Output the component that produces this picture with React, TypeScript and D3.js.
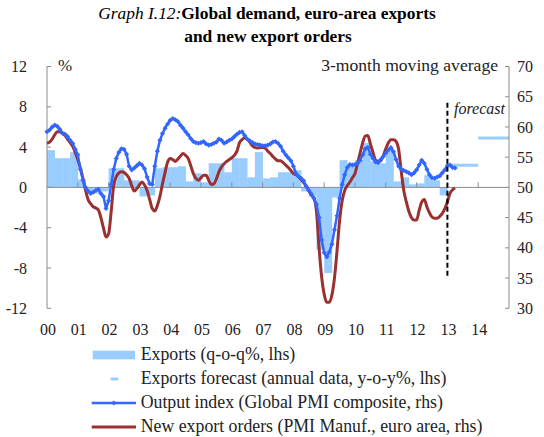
import React from "react";
import * as d3 from "d3";

// Exports, q-o-q %, quarterly from 2000Q1 (lhs)
const exportsQoq = [
  3.7, 2.9, 2.9, 3.5,
  0.8, -0.5, -0.6, -0.4,
  1.9, 1.9, 0.7, 0.7,
  -0.9, -0.8, 1.9, 2.0,
  2.0, 2.1, 0.6, 1.4,
  0.5, 2.4, 2.4, 1.5,
  2.9, 2.9, 1.0, 3.5,
  0.9, 1.0, 1.5, 1.5,
  1.7, -0.4, -0.9, -6.2,
  -8.5, -1.0, 2.7, 2.3,
  2.7, 4.4, 2.6, 2.4,
  3.8, 0.6, 1.0, 0.3,
  0.4, 1.2, 0.7, -0.8,
];

// Exports forecast, annual y-o-y % (lhs)
const forecastYears = [2013, 2014];
const forecastValues = [2.2, 4.9];

// Global PMI composite output index, monthly from Jan 2000 (rhs)
const pmiOutput = [
  59.2, 59.5, 60.0, 60.3, 60.1, 59.6, 59.0, 58.8, 58.4, 57.8, 57.3, 56.3,
  55.4, 53.0, 51.2, 50.0, 49.4, 49.0, 49.2, 49.5, 49.7, 49.0, 48.5, 46.5,
  47.8, 50.5, 53.0, 54.8, 55.8, 56.4, 56.3, 55.5, 53.5, 52.9, 53.2, 53.6,
  54.0, 53.7, 53.1, 51.7, 50.6, 50.5, 53.5, 56.0, 57.8, 58.9, 59.8, 60.5,
  61.1, 61.4, 61.2, 60.9, 60.3, 59.8, 59.2, 58.7, 58.1, 57.6, 57.4, 57.3,
  57.4, 57.6, 57.2, 57.0, 57.1, 57.3, 57.5, 58.0, 57.8, 57.3, 57.5, 57.8,
  58.0, 58.4, 58.8, 59.1, 59.2, 58.6, 58.0, 57.7, 57.4, 57.2, 57.1, 57.0,
  56.9, 56.9, 57.0, 57.2, 57.5, 57.6, 57.3, 56.8, 56.0, 55.4, 54.9, 54.4,
  53.5, 52.3, 51.8, 51.5, 51.1, 50.2, 49.5, 48.9, 48.2, 47.2, 45.0, 41.3,
  39.2, 38.5, 39.3, 40.6, 43.0, 45.3, 48.2, 50.5, 52.1, 53.3, 53.8, 53.7,
  53.8, 54.0, 54.5, 55.4, 56.4, 56.6, 55.5, 54.8, 54.2, 54.1, 54.6, 55.1,
  55.7, 56.2, 56.6, 55.9, 54.6, 53.5, 53.0, 52.8, 52.6, 52.4, 52.1, 52.4,
  52.9, 53.7, 54.5, 54.0, 53.0, 52.1, 51.6, 51.5, 51.7, 51.9, 52.4, 52.9,
  53.6, 53.7, 53.3, 53.2,
];

// New export orders, PMI manufacturing euro area, monthly from Jan 2000 (rhs)
const newExportOrders = [
  57.3, 57.5, 58.0, 58.7, 59.2, 59.2, 58.9, 58.6, 58.0, 57.4, 56.8, 55.8,
  54.6, 53.2, 51.5, 49.6, 48.0, 47.3, 46.8, 46.6, 46.3, 45.0, 43.3, 41.8,
  42.3, 46.0, 50.4, 51.8, 52.4, 52.6, 52.5, 52.1, 51.5, 50.3, 49.4, 49.8,
  50.4, 50.9, 50.4, 49.5, 48.0, 46.5, 46.1, 47.0, 48.5, 50.6, 52.5, 54.2,
  54.8, 54.6, 54.3, 54.7, 55.2, 55.6, 55.3, 54.8, 53.6, 52.3, 51.5, 51.2,
  51.6, 52.0, 52.0, 51.2, 50.5, 50.6, 51.4, 52.6, 53.4, 53.9, 54.3, 54.6,
  54.9, 55.3, 56.0, 57.4, 57.9, 58.2, 58.0, 57.5, 56.9, 56.6, 56.5, 56.6,
  56.6, 56.5, 56.0, 55.6, 55.1, 54.7, 54.4, 54.4, 54.1, 53.7, 53.3, 52.8,
  52.3, 52.1, 51.8, 51.3, 50.8, 50.2, 49.5, 48.7, 48.2, 46.0, 40.0, 35.2,
  32.3, 31.0, 31.0, 32.2, 35.0, 39.5, 44.5, 47.8, 49.5, 50.3, 50.9, 51.6,
  52.3, 54.0, 55.7, 57.4, 58.5, 58.6, 57.2, 55.8, 54.5, 54.3, 54.4, 55.2,
  56.4, 57.4, 57.9, 57.9, 57.6, 56.3, 52.7, 49.5, 47.6, 46.0, 45.0, 44.6,
  44.6, 46.2, 47.6, 48.0, 46.8, 45.8, 45.1, 44.9, 44.9, 45.2, 45.7, 46.5,
  47.6, 49.0, 49.6, 49.9,
];

const yearLabels = ["00", "01", "02", "03", "04", "05", "06", "07", "08", "09", "10", "11", "12", "13", "14"];
const leftTicks = [-12, -8, -4, 0, 4, 8, 12];
const rightTicks = [30, 35, 40, 45, 50, 55, 60, 65, 70];
const forecastMarker = { year: 2013, top: 64, bottom: 35 };

const legendItems = [
  "Exports (q-o-q%, lhs)",
  "Exports forecast (annual data, y-o-y%, lhs)",
  "Output index (Global PMI composite, rhs)",
  "New export orders (PMI Manuf., euro area, rhs)",
];

const W = 544;
const H = 437;
const serif = "'Liberation Serif', 'Times New Roman', serif";
const axisColor = "#8c8c8c";
const barColor = "#99ccff";
const blue = "#3366ff";
const red = "#9b3030";

export default function App() {
  const x = d3.scaleLinear().domain([2000, 2015]).range([47, 509]);
  const yL = d3.scaleLinear().domain([-12, 12]).range([308.3, 66.5]);
  const yR = d3.scaleLinear().domain([30, 70]).range([308.3, 66.5]);

  const bars = exportsQoq.map((v, i) => ({ t: 2000 + i / 4, v }));
  const bluePts = pmiOutput.map((v, i) => [2000 + i / 12, v] as [number, number]);
  const redPts = newExportOrders.map((v, i) => [2000 + i / 12, v] as [number, number]);

  const blueLine = d3.line<[number, number]>().x((d) => x(d[0])).y((d) => yR(d[1]));
  const redLine = d3
    .line<[number, number]>()
    .x((d) => x(d[0]))
    .y((d) => yR(d[1]))
    .curve(d3.curveMonotoneX);

  const years = d3.range(2000, 2015);
  const legendY = [355, 379, 403, 427];

  return (
    <svg width={W} height={H} style={{ position: "absolute", left: 0, top: 0, background: "#fff" }} fontFamily={serif}>
      {/* title */}
      <text x={267} y={19} textAnchor="middle" fontSize={17.4} fill="#000">
        <tspan fontStyle="italic">Graph I.12:</tspan>
        <tspan fontWeight="bold">Global demand, euro-area exports</tspan>
      </text>
      <text x={268} y={42} textAnchor="middle" fontSize={17.4} fontWeight="bold" fill="#000">
        and new export orders
      </text>

      {/* bars */}
      {bars.map((b, i) => (
        <rect
          key={i}
          x={x(b.t)}
          width={x(b.t + 0.25) - x(b.t) + 0.3}
          y={yL(Math.max(0, b.v))}
          height={Math.abs(yL(b.v) - yL(0))}
          fill={barColor}
        />
      ))}

      {/* forecast bars */}
      {forecastYears.map((yr, i) => (
        <line
          key={yr}
          x1={x(yr)}
          x2={x(yr + 1)}
          y1={yL(forecastValues[i])}
          y2={yL(forecastValues[i])}
          stroke={barColor}
          strokeWidth={3}
        />
      ))}

      {/* axes */}
      <line x1={x(2000)} x2={x(2000)} y1={yL(12)} y2={yL(-12)} stroke={axisColor} />
      <line x1={x(2015)} x2={x(2015)} y1={yR(70)} y2={yR(30)} stroke={axisColor} />
      <line x1={x(2000)} x2={x(2015)} y1={yL(0)} y2={yL(0)} stroke={axisColor} />
      {leftTicks.map((t) => (
        <g key={t}>
          <line x1={x(2000)} x2={x(2000) + 4} y1={yL(t)} y2={yL(t)} stroke={axisColor} />
          <text x={27} y={yL(t)} dy="0.35em" textAnchor="end" fontSize={16} fill="#222">
            {t}
          </text>
        </g>
      ))}
      {rightTicks.map((t) => (
        <g key={t}>
          <line x1={x(2015) - 4} x2={x(2015)} y1={yR(t)} y2={yR(t)} stroke={axisColor} />
          <text x={517} y={yR(t)} dy="0.35em" textAnchor="start" fontSize={16} fill="#222">
            {t}
          </text>
        </g>
      ))}
      {years.map((yr, i) => (
        <g key={yr}>
          {i > 0 && <line x1={x(yr)} x2={x(yr)} y1={yL(0)} y2={yL(0) - 5} stroke={axisColor} />}
          <text x={x(yr) + 1} y={335} textAnchor="middle" fontSize={16} fill="#222">
            {yearLabels[i]}
          </text>
        </g>
      ))}

      <text x={58} y={71} fontSize={17} fill="#222">%</text>
      <text x={498} y={71} textAnchor="end" fontSize={17.6} fill="#222">3-month moving average</text>

      {/* lines */}
      <path d={redLine(redPts) || ""} fill="none" stroke={red} strokeWidth={3} strokeLinejoin="round" />
      <path d={blueLine(bluePts) || ""} fill="none" stroke={blue} strokeWidth={2.5} strokeLinejoin="round" />
      {bluePts.map((p, i) => (
        <rect key={i} x={x(p[0]) - 1.8} y={yR(p[1]) - 1.8} width={3.6} height={3.6} fill={blue} transform={`rotate(45 ${x(p[0])} ${yR(p[1])})`} />
      ))}

      {/* forecast marker */}
      <line
        x1={x(forecastMarker.year)}
        x2={x(forecastMarker.year)}
        y1={yR(forecastMarker.top)}
        y2={yR(forecastMarker.bottom)}
        stroke="#000"
        strokeWidth={2}
        strokeDasharray="5,3"
      />
      <text x={454} y={114} fontSize={16} fontStyle="italic" fill="#222">forecast</text>

      {/* legend */}
      <rect x={92.7} y={legendY[0] - 4.3} width={42.3} height={8.6} fill={barColor} />
      <line x1={110.7} x2={118.3} y1={legendY[1]} y2={legendY[1]} stroke={barColor} strokeWidth={3} />
      <line x1={91.7} x2={136} y1={legendY[2]} y2={legendY[2]} stroke={blue} strokeWidth={2.5} />
      <rect x={112} y={legendY[2] - 1.8} width={3.6} height={3.6} fill={blue} transform={`rotate(45 113.8 ${legendY[2]})`} />
      <line x1={91.7} x2={136} y1={legendY[3]} y2={legendY[3]} stroke={red} strokeWidth={3} />
      {legendItems.map((s, i) => (
        <text key={s} x={140.7} y={legendY[i] + 4.5} fontSize={17.8} fill="#222">
          {s}
        </text>
      ))}
    </svg>
  );
}
